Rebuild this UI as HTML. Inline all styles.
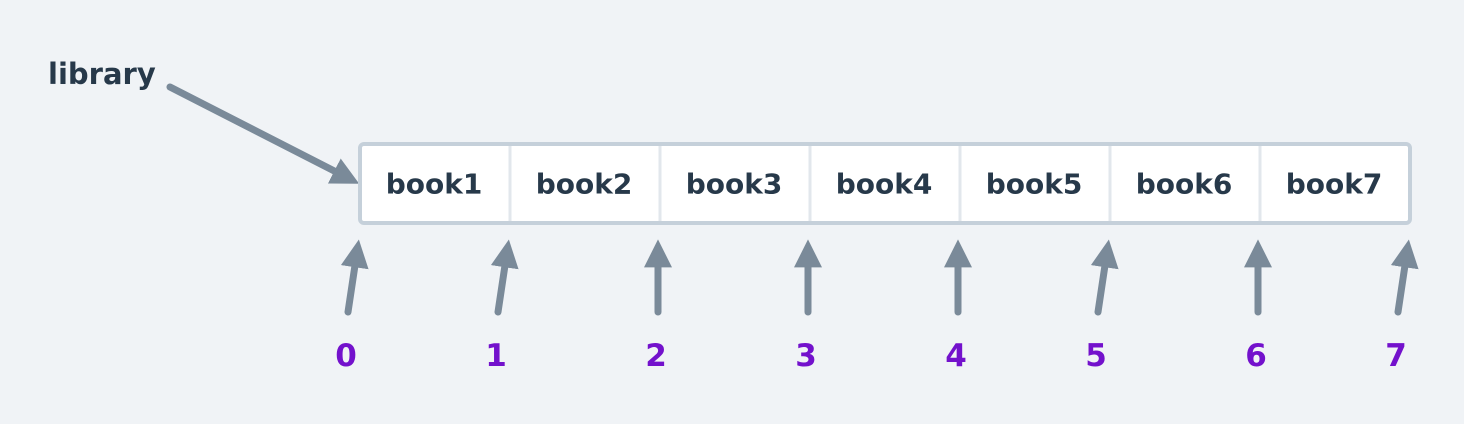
<!DOCTYPE html>
<html><head><meta charset="utf-8"><style>
html,body{margin:0;padding:0;background:#f0f3f6;}
svg{display:block}
text{font-family:"DejaVu Sans","Liberation Sans",sans-serif;font-weight:bold}
</style></head><body>
<svg width="1464" height="424" viewBox="0 0 1464 424">
<defs><marker id="ah" markerWidth="4" markerHeight="4" refX="2.2" refY="2" orient="auto" markerUnits="strokeWidth"><path d="M0,0 L4,2 L0,4 Z" fill="#7a8a99"/></marker></defs>
<rect x="0" y="0" width="1464" height="424" fill="#f0f3f6"/>
<text x="48" y="84" font-size="29" fill="#27394a">library</text>
<line x1="170" y1="87" x2="348" y2="178" stroke="#7a8a99" stroke-width="7" stroke-linecap="round" marker-end="url(#ah)"/>
<g id="cells"></g>
<g id="arrows"></g>
</svg>
<script>
const books=["book1","book2","book3","book4","book5","book6","book7"];
const indices=["0","1","2","3","4","5","6","7"];
const ns="http://www.w3.org/2000/svg";
const cells=document.getElementById('cells'),arrows=document.getElementById('arrows');
const x0=360,cw=150,y0=144,h=79;
function mk(t,a,p){const e=document.createElementNS(ns,t);for(const k in a)e.setAttribute(k,a[k]);p.appendChild(e);return e;}
const box=mk('rect',{x:x0,y:y0,width:cw*books.length,height:h,rx:4,fill:'#fff',stroke:'#c5d0da','stroke-width':4},cells);


books.forEach((b,i)=>{
 if(i>0){const d=mk('line',{x1:x0+i*cw,y1:y0+2,x2:x0+i*cw,y2:y0+h-2,stroke:'#e2e7ec','stroke-width':3},cells);
 
 }
 const t=mk('text',{x:x0+i*cw+cw/2-1,y:y0+h/2+10,'font-size':28,fill:'#27394a','text-anchor':'middle'},cells);
 t.textContent=b;
 
 
});
const tilt=[10,10,0,0,0,10,0,10];
indices.forEach((s,i)=>{
 const tx=x0+i*cw-2, bx=tx-tilt[i];
 const a=mk('line',{x1:bx,y1:312,x2:tx-tilt[i]*0.1,y2:252,stroke:'#7a8a99','stroke-width':7,'stroke-linecap':'round','marker-end':'url(#ah)'},arrows);
 
 
 const t=mk('text',{x:bx-2,y:366,'font-size':31,fill:'#7311cc','text-anchor':'middle'},arrows);
 t.textContent=s;
 
 
});
</script>
</body></html>
